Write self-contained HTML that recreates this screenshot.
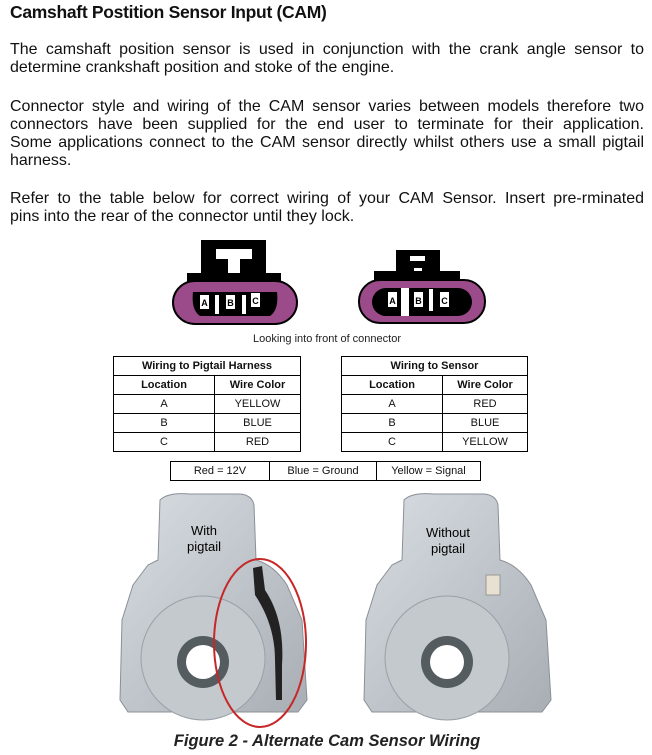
<!DOCTYPE html>
<html><head><style>
body{margin:0;width:652px;height:755px;background:#fff;position:relative;overflow:hidden;font-family:"Liberation Sans",Arial,sans-serif;color:#111}
.t{position:absolute;left:10px;width:634px;font-size:16px;line-height:18px}
.j{text-align:justify;text-align-last:justify;white-space:nowrap}
h1{position:absolute;left:10px;top:2px;margin:0;font-size:17.5px;font-weight:bold;letter-spacing:-0.3px}
table{position:absolute;border-collapse:collapse;font-size:11px}
td{border:1px solid #000;text-align:center;height:18px;padding:0}
.b td{font-weight:bold}
</style></head><body>
<h1>Camshaft Postition Sensor Input (CAM)</h1>
<div class="t" style="top:41px"><div class="j">The camshaft position sensor is used in conjunction with the crank angle sensor to</div><div>determine crankshaft position and stoke of the engine.</div></div>
<div class="t" style="top:98px"><div class="j">Connector style and wiring of the CAM sensor varies between models therefore two</div><div class="j">connectors have been supplied for the end user to terminate for their application.</div><div class="j">Some applications connect to the CAM sensor directly whilst others use a small pigtail</div><div>harness.</div></div>
<div class="t" style="top:190px"><div class="j">Refer to the table below for correct wiring of your CAM Sensor. Insert pre-rminated</div><div>pins into the rear of the connector until they lock.</div></div>

<svg style="position:absolute;left:0;top:0" width="652" height="755">
<rect x="201" y="240" width="65" height="46" fill="#000"/>
<rect x="216" y="249" width="36" height="10" fill="#fff"/>
<rect x="228" y="249" width="12" height="28" fill="#fff"/>
<rect x="187" y="273" width="94" height="13" fill="#000"/>
<rect x="173" y="281" width="124" height="43" rx="22" fill="#9b4a8a" stroke="#000" stroke-width="2"/>
<path d="M193 292 H277 Q279 310 270 316 H200 Q191 310 193 292Z" fill="#000"/>
<rect x="200" y="295" width="9" height="14" fill="#fff"/><rect x="215" y="295" width="4" height="19" fill="#fff"/>
<rect x="226" y="295" width="9" height="14" fill="#fff"/><rect x="242" y="295" width="4" height="19" fill="#fff"/>
<rect x="251" y="293" width="9" height="14" fill="#fff"/>
<text x="204.5" y="306" font-size="9" font-weight="bold" text-anchor="middle">A</text>
<text x="230.5" y="306" font-size="9" font-weight="bold" text-anchor="middle">B</text>
<text x="255.5" y="304" font-size="9" font-weight="bold" text-anchor="middle">C</text>
<rect x="396" y="250" width="44" height="30" fill="#000"/>
<rect x="410" y="256" width="15" height="5" fill="#fff"/><rect x="414" y="268" width="8" height="4" fill="#fff"/>
<rect x="374" y="271" width="86" height="12" fill="#000"/>
<rect x="359" y="280" width="126" height="43" rx="21" fill="#9b4a8a" stroke="#000" stroke-width="2"/>
<rect x="372" y="288" width="100" height="28" rx="14" fill="#000"/>
<rect x="388" y="292" width="9" height="15" fill="#fff"/><rect x="401" y="288" width="8" height="28" fill="#fff"/>
<rect x="414" y="292" width="9" height="15" fill="#fff"/><rect x="429" y="289" width="4" height="22" fill="#fff"/>
<rect x="440" y="292" width="9" height="15" fill="#fff"/>
<text x="392.5" y="304" font-size="9" font-weight="bold" text-anchor="middle">A</text>
<text x="418.5" y="304" font-size="9" font-weight="bold" text-anchor="middle">B</text>
<text x="444.5" y="304" font-size="9" font-weight="bold" text-anchor="middle">C</text>
<text x="327" y="342" font-size="11" text-anchor="middle" fill="#222">Looking into front of connector</text>

<defs><linearGradient id="g" x1="0" x2="1" y1="0" y2="1"><stop offset="0" stop-color="#d8dde2"/><stop offset="1" stop-color="#a8aeb4"/></linearGradient></defs>
<g id="c1">
<path d="M160 500 Q168 492 190 494 L240 494 Q252 495 254 505 L256 560 Q274 565 287 585 L302 620 L307 700 L298 712 L128 712 L120 700 L122 620 L133 585 L148 565 L158 560 Z" fill="url(#g)" stroke="#8a9096"/>
<circle cx="203" cy="658" r="62" fill="#c4c9ce" stroke="#9aa0a6"/>
<circle cx="203" cy="662" r="26" fill="#555c60"/>
<circle cx="203" cy="662" r="17" fill="#fff"/>
</g>
<use href="#c1" transform="translate(244 0)"/>
<text x="204" y="535" font-size="13" text-anchor="middle">With</text>
<text x="204" y="551" font-size="13" text-anchor="middle">pigtail</text>
<text x="448" y="537" font-size="13" text-anchor="middle">Without</text>
<text x="448" y="553" font-size="13" text-anchor="middle">pigtail</text>
<path d="M253 568 L262 566 L265 590 Q285 620 282 665 L282 700 L276 700 L275 660 Q275 625 255 595 Z" fill="#222"/>
<rect x="486" y="575" width="14" height="20" fill="#e8e0d0" stroke="#999"/>
<ellipse cx="260" cy="643" rx="46" ry="84" fill="none" stroke="#c62828" stroke-width="2"/>
<text x="327" y="746" font-size="16.5" font-weight="bold" font-style="italic" text-anchor="middle" fill="#222">Figure 2 - Alternate Cam Sensor Wiring</text>
</svg>

<table style="left:113px;top:356px;width:188px">
<tr class="b"><td colspan="2">Wiring to Pigtail Harness</td></tr>
<tr class="b"><td style="width:100px">Location</td><td>Wire Color</td></tr>
<tr><td>A</td><td>YELLOW</td></tr><tr><td>B</td><td>BLUE</td></tr><tr><td>C</td><td>RED</td></tr>
</table>
<table style="left:341px;top:356px;width:187px">
<tr class="b"><td colspan="2">Wiring to Sensor</td></tr>
<tr class="b"><td style="width:100px">Location</td><td>Wire Color</td></tr>
<tr><td>A</td><td>RED</td></tr><tr><td>B</td><td>BLUE</td></tr><tr><td>C</td><td>YELLOW</td></tr>
</table>
<table style="left:170px;top:461px;width:311px">
<tr><td style="width:98px">Red = 12V</td><td style="width:106px">Blue = Ground</td><td>Yellow = Signal</td></tr>
</table>
</body></html>
